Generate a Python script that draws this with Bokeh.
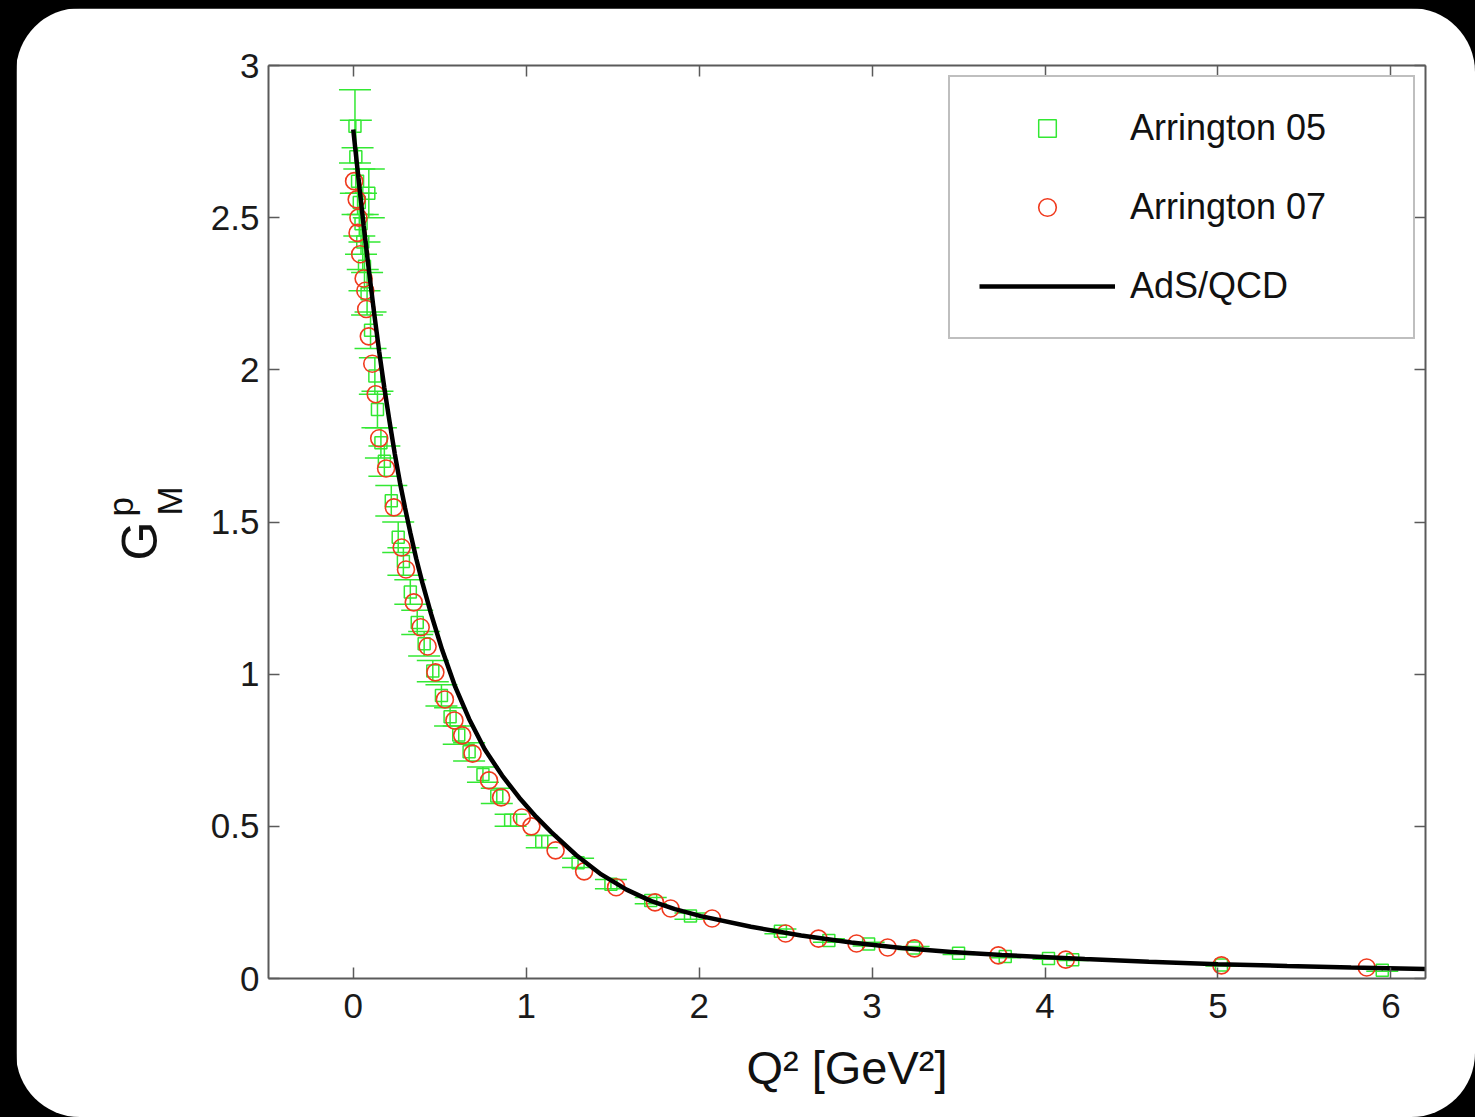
from bokeh.plotting import figure
from bokeh.models import (ColumnDataSource, Whisker, TeeHead, Legend, LegendItem,
                          LinearAxis, Title, NumeralTickFormatter, PrintfTickFormatter,
                          FixedTicker, Range1d)
from bokeh.embed import file_html
from bokeh.resources import INLINE

# ---------------- data ----------------
x_ticks = [0, 1, 2, 3, 4, 5, 6]
y_ticks = [0, 0.5, 1, 1.5, 2, 2.5, 3]

# Arrington 05 (green squares with error bars)
a05_q2 = [0.01, 0.015, 0.025, 0.035, 0.045, 0.09, 0.055, 0.065, 0.08, 0.10, 0.125, 0.14,
          0.16, 0.18, 0.22, 0.26, 0.29, 0.33, 0.37, 0.41, 0.46, 0.51, 0.56, 0.61, 0.67,
          0.75, 0.83, 0.91, 1.09, 1.30, 1.49, 1.72, 1.95, 2.47, 2.75, 2.98, 3.24, 3.50,
          3.77, 4.02, 4.16, 5.02, 5.95]
a05_gm = [2.80, 2.70, 2.62, 2.55, 2.48, 2.58, 2.42, 2.34, 2.25, 2.13, 1.98, 1.87,
          1.76, 1.70, 1.57, 1.45, 1.37, 1.27, 1.17, 1.10, 1.01, 0.93, 0.86, 0.80, 0.745,
          0.67, 0.60, 0.52, 0.45, 0.38, 0.31, 0.256, 0.205, 0.155, 0.125, 0.113, 0.100, 0.083,
          0.072, 0.066, 0.062, 0.044, 0.027]
a05_err = [0.12, 0.12, 0.11, 0.11, 0.10, 0.08, 0.09, 0.08, 0.07, 0.06, 0.06, 0.06,
           0.05, 0.05, 0.05, 0.05, 0.045, 0.04, 0.04, 0.04, 0.035, 0.035, 0.03, 0.03, 0.03,
           0.025, 0.025, 0.02, 0.02, 0.015, 0.015, 0.01, 0.01, 0.008, 0.006, 0.006, 0.005, 0.004,
           0.004, 0.003, 0.003, 0.003, 0.003]

# Arrington 07 (red circles)
a07_q2 = [0.005, 0.02, 0.03, 0.025, 0.04, 0.06, 0.07, 0.075, 0.09, 0.11, 0.13, 0.15, 0.19,
          0.235, 0.28, 0.305, 0.35, 0.39, 0.43, 0.475, 0.53, 0.585, 0.63, 0.69, 0.785, 0.855,
          0.975, 1.03, 1.17, 1.335, 1.52, 1.745, 1.835, 2.075, 2.50, 2.69, 2.91, 3.09, 3.245,
          3.73, 4.12, 5.02, 5.86]
a07_gm = [2.62, 2.56, 2.50, 2.45, 2.38, 2.30, 2.26, 2.20, 2.11, 2.02, 1.92, 1.775, 1.676,
          1.548, 1.416, 1.344, 1.236, 1.154, 1.091, 1.006, 0.917, 0.848, 0.799, 0.739, 0.651, 0.595,
          0.529, 0.50, 0.421, 0.352, 0.30, 0.25, 0.23, 0.197, 0.148, 0.131, 0.115, 0.102, 0.099,
          0.076, 0.062, 0.043, 0.036]

# AdS/QCD curve
ads_q2 = [0.0, 0.03, 0.06, 0.09, 0.12, 0.15, 0.18, 0.21, 0.24, 0.27, 0.30, 0.33, 0.364,
          0.40, 0.45, 0.514, 0.59, 0.67, 0.76, 0.861, 0.96, 1.058, 1.145, 1.29, 1.434, 1.58,
          1.72, 1.86, 2.01, 2.30, 2.59, 2.88, 3.17, 3.46, 3.75, 4.23, 4.6, 5.0, 5.4, 5.77, 6.2]
ads_gm = [2.79, 2.63, 2.475, 2.33, 2.19, 2.06, 1.94, 1.83, 1.725, 1.63, 1.545, 1.465, 1.38,
          1.30, 1.198, 1.08, 0.958, 0.853, 0.753, 0.667, 0.594, 0.531, 0.481, 0.405, 0.342, 0.292,
          0.255, 0.228, 0.205, 0.170, 0.141, 0.118, 0.100, 0.087, 0.077, 0.064, 0.055, 0.047,
          0.041, 0.036, 0.031]

GREEN = "#33e833"
RED = "#f03a1e"
FONT = "Liberation Sans"
INK = "#111111"

# ---------------- figure ----------------
p = figure(frame_width=1157, frame_height=913, width=1459, height=1109,
           x_range=Range1d(-0.49, 6.2), y_range=Range1d(0, 3),
           output_backend="svg", toolbar_location=None,
           min_border_left=252, min_border_right=50, min_border_top=57, min_border_bottom=139,
           background_fill_color="white", border_fill_color="white", outline_line_color=None)
p.grid.visible = False
p.styles = {"border-radius": "64px", "overflow": "hidden",
            "margin-left": "16px", "margin-top": "8px"}

src05 = ColumnDataSource(dict(x=a05_q2, y=a05_gm,
                              lo=[g - e for g, e in zip(a05_gm, a05_err)],
                              hi=[g + e for g, e in zip(a05_gm, a05_err)]))
src07 = ColumnDataSource(dict(x=a07_q2, y=a07_gm))
srcads = ColumnDataSource(dict(x=ads_q2, y=ads_gm))

wh = Whisker(source=src05, base="x", upper="hi", lower="lo", dimension="height",
             line_color=GREEN, line_width=1.5,
             upper_head=TeeHead(size=32, line_color=GREEN, line_width=1.5),
             lower_head=TeeHead(size=32, line_color=GREEN, line_width=1.5))
p.add_layout(wh)

r05 = p.scatter("x", "y", source=src05, marker="square", size=12, fill_color=None,
                line_color=GREEN, line_width=1.5)
r07 = p.scatter("x", "y", source=src07, marker="circle", size=17, fill_color=None,
                line_color=RED, line_width=1.6)
rads = p.line("x", "y", source=srcads, line_color="black", line_width=4.5)

# ---------------- axes ----------------
def style_axis(ax, labels=True):
    ax.axis_line_color = "#5a5a5a"
    ax.axis_line_width = 2
    ax.major_tick_line_color = "#5a5a5a"
    ax.major_tick_line_width = 1.5
    ax.major_tick_in = 11
    ax.major_tick_out = 0
    ax.minor_tick_line_color = None
    ax.major_label_text_font = FONT
    ax.major_label_text_color = "#1a1a1a"
    ax.major_label_text_font_size = "35px"
    if not labels:
        ax.formatter = PrintfTickFormatter(format="")
        ax.major_label_standoff = 0

xa = p.xaxis[0]
xa.ticker = FixedTicker(ticks=x_ticks)
style_axis(xa)
xa.major_label_standoff = 15
xa.axis_label = "Q² [GeV²]"
xa.axis_label_text_font = FONT
xa.axis_label_text_font_size = "47px"
xa.axis_label_text_font_style = "normal"
xa.axis_label_text_color = INK
xa.axis_label_standoff = 20

ya = p.yaxis[0]
ya.ticker = FixedTicker(ticks=y_ticks)
ya.formatter = NumeralTickFormatter(format="0.[0]")
style_axis(ya)
ya.major_label_standoff = 9

top = LinearAxis(ticker=FixedTicker(ticks=x_ticks))
style_axis(top, labels=False)
p.add_layout(top, "above")
right = LinearAxis(ticker=FixedTicker(ticks=y_ticks))
style_axis(right, labels=False)
p.add_layout(right, "right")

# y-axis label  G^p_M  (three rotated titles stacked in the left panel)
p.add_layout(Title(text="M", align="left", offset=463, standoff=38,
                   text_font=FONT, text_font_size="35px", text_font_style="normal",
                   text_color=INK), "left")
p.add_layout(Title(text="G", align="left", offset=418, standoff=-78,
                   text_font=FONT, text_font_size="50px", text_font_style="normal",
                   text_color=INK), "left")
p.add_layout(Title(text="p", align="left", offset=462, standoff=-23,
                   text_font=FONT, text_font_size="35px", text_font_style="normal",
                   text_color=INK), "left")

# ---------------- legend ----------------
legend = Legend(items=[LegendItem(label="Arrington 05", renderers=[r05]),
                       LegendItem(label="Arrington 07", renderers=[r07]),
                       LegendItem(label="AdS/QCD", renderers=[rads])],
                location="top_right", margin=10, padding=29, spacing=35,
                glyph_width=136, glyph_height=44, label_height=44, label_width=254,
                label_standoff=15, label_text_font=FONT, label_text_font_size="36px",
                label_text_color=INK, border_line_color="#808080", border_line_width=2,
                background_fill_color="white", background_fill_alpha=1.0)
p.add_layout(legend)

html = file_html(p, INLINE, title="GMp")
html = html.replace("<head>", "<head>\n<style>html,body{background:#000;}</style>", 1)
open("out.html", "w").write(html)
